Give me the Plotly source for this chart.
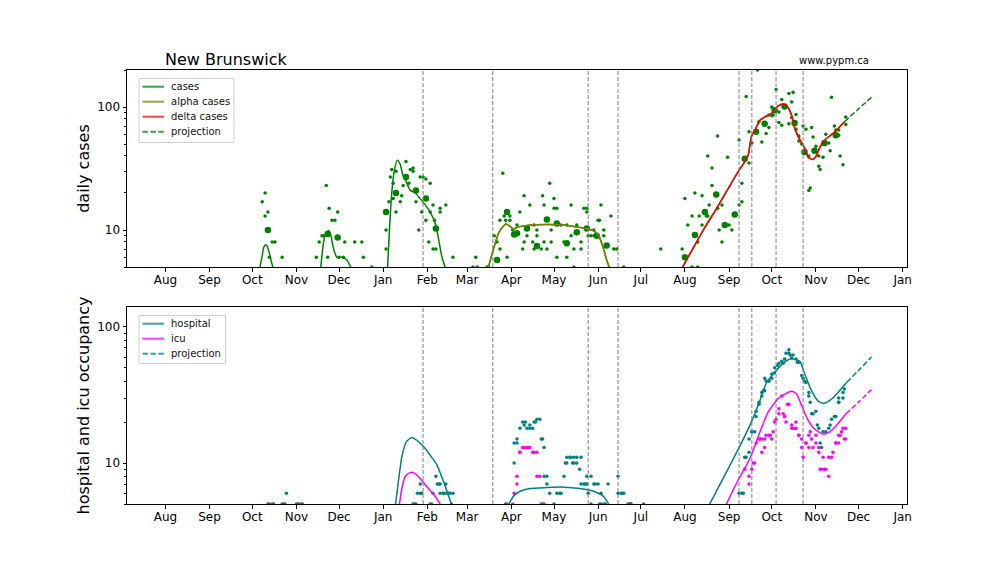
import pandas as pd
import plotly.graph_objects as go
import math

START = pd.Timestamp("2020-08-01")

def to_dates(days):
    return [None if d is None else (START + pd.to_timedelta(d, "D")).isoformat() for d in days]

month_ticks = ["2020-08-01","2020-09-01","2020-10-01","2020-11-01","2020-12-01","2021-01-01","2021-02-01",
               "2021-03-01","2021-04-01","2021-05-01","2021-06-01","2021-07-01","2021-08-01","2021-09-01",
               "2021-10-01","2021-11-01","2021-12-01","2022-01-01"]
month_labels = ["Aug","Sep","Oct","Nov","Dec","Jan","Feb","Mar","Apr","May","Jun","Jul","Aug","Sep","Oct","Nov","Dec","Jan"]
breakpoints = [181, 230, 297, 318, 403, 412, 429, 448]

# daily cases (days since 2020-08-01)
case_days = [68,70,70,72,75,77,73,82,
 106,108,110,111,113,114,115,117,119,121,126,122,125,133,138,139,145,
 155,155,157,158,159,160,160,162,162,165,166,167,169,171,172,174,174,176,179,178,180,181,183,183,186,188,185,186,188,190,189,193,193,197,202,216,219,218,226,227,
 231,233,235,237,240,235,239,238,242,242,244,247,249,252,251,252,254,256,258,259,259,261,261,264,265,266,266,268,270,271,271,273,273,275,275,278,280,282,282,285,285,287,287,289,292,292,294,296,296,297,299,301,301,304,305,306,308,308,313,315,317,322,348,
 363,370,374,365,367,370,374,372,375,377,377,380,382,381,381,384,384,388,388,389,391,391,395,396,398,403,403,405,405,408,410,410,412,416,415,417,419,422,424,424,426,426,427,429,431,431,433,433,438,438,440,440,441,443,443,445,445,447,448,450,452,453,452,454,455,457,459,460,459,462,464,466,467,468,470,471,473,473,474,476,478,478]
case_vals = [17,20,13,14,8,8,6,6,
 6,8,9,9,23,6,15,12,12,14,8,6,6,8,8,6,5,
 10,7,17,27,31,24,18,30,14,17,19,23,36,24,31,32,30,17,27,10,14,27,12,26,24,16,8,14,7,7,12,15,14,16,6,5,5,6,5,5,
 9,8,7,29,6,12,12,13,13,12,10,11,14,8,7,19,9,16,8,11,7,10,9,7,19,16,8,7,24,8,10,15,18,15,6,11,8,6,11,9,16,7,5,11,8,7,15,15,14,9,9,9,10,12,12,16,10,9,13,7,7,5,7,
 7,5,5,18,11,13,8,20,13,11,19,13,16,13,40,23,32,58,15,10,8,16,39,11,10,54,16,17,24,122,35,63,51,200,63,76,52,61,86,68,85,100,86,139,75,91,71,115,129,73,110,82,132,87,66,58,53,50,70,66,40,22,21,68,57,48,33,31,40,39,60,51,44,120,70,65,65,59,40,34,83,72,91,91,62,40]

# weekly averages (large dots)
case_week_days = [72,114,121,155,162,169,176,183,190,233,240,245,247,254,261,268,275,282,289,296,303,310,
                  365,372,379,387,393,400,407,415,421,428,435,442,449,456,463,471]
case_week_vals = [10,9.3,8.7,14,20,27,21,18,10.3,5.7,14,9.2,9.4,10.3,7.4,12.2,11.3,7.8,9.6,10.3,9,7.5,
                  6,9.1,14,19.4,11,13.4,38,63,73,94,101,74,43,44,51,59]

# fitted curves, None marks where the curve leaves the axis range
fit_days = [66,68,69,70.4,71.5,73,74.5,76,None,
 109,111,112.5,114.6,116.3,118,120.5,124,127.5,130.5,None,
 156,157.5,159,160.7,163,165,166.8,169,172,175.5,179,182.5,186,189.6,192,194.3,197,None,
 226.5,230.5,234,237.5,239.4,241.7,244.5,248,254,268,279.6,291.3,300.6,304.2,307.7,310,312.3,None,
 362.5,377.9,387.3,402.5,407.1,409.5,411.8,414.2,417.7,421.2,425.9,430.5,434,436.9,439.9,442.2,445.8,449.3,451.6,454.6,456.7,459.8,463.3,469.1,477.1]
fit_vals = [4.7,6.2,7.2,7.6,7.4,6.5,5.5,4.7,None,
 4.8,7.8,9.3,9.9,9,7.1,6,6,5.7,4.9,None,
 4.8,10.6,20,30,37,34,28,25,21,20,18,16,14,11.3,8.3,6,4.8,None,
 4.8,7,9.4,10.8,11.2,10.8,10.2,10.6,10.9,11.1,11,10.5,9.9,9.1,7.1,5.7,4.8,None,
 4.8,10,15,30,36,41,58,65,78,83,89,102,106,101,86,67,54,46,39,37.5,39,47,54,61,76]
alpha_days = [226.5,230.5,234,237.5,239.4,241.7,244.5,248,254,268,279.6,291.3,300.6,304.2,307.7,310,312.3]
alpha_vals = [4.8,7,9.4,10.8,11.2,10.8,10.2,10.6,10.9,11.1,11,10.5,9.9,9.1,7.1,5.7,4.8]
delta_days = [362.5,377.9,387.3,402.5,407.1,409.5,411.8,414.2,417.7,421.2,425.9,430.5,434,436.9,439.9,442.2,445.8,449.3,451.6,454.6,456.7,459.8,463.3,469.1,477.1]
delta_vals = [4.8,10,15,30,36,41,58,65,78,83,89,102,106,101,86,67,54,46,39,37.5,39,47,54,61,76]
proj_case_days = [477.1,486.7,496]
proj_case_vals = [76,96,120]

# hospital occupancy
hosp_days = [72,73,75,76,82,83,84,85,92,93,94,96,96,
 174,175,176,179,177,179,180,186,187,188,190,191,192,193,193,195,196,198,199,200,202,197,201,
 239,240,245,245,247,247,249,251,253,252,254,256,258,256,259,260,261,263,264,265,266,266,268,268,270,273,275,277,278,280,281,282,282,284,285,286,287,287,289,289,292,291,292,294,295,296,296,299,297,299,301,302,304,306,305,306,308,309,311,318,318,320,321,322,327,325,326,327,336,
 403,405,406,407,408,410,410,412,412,414,415,415,417,417,419,419,420,421,421,422,424,424,426,426,428,428,430,431,433,434,435,436,438,438,439,440,441,443,444,445,447,448,449,450,452,452,453,454,455,457,458,459,460,461,462,464,466,467,468,470,471,473,473,476,473,476,477,478]
hosp_vals = [5,5,5,5,5,5,5,6,5,5,5,5,5,
 5,5,5,7,6,6,6,5,5,6,8,7,7,7,6,6,6,6,6,6,6,7,5,
 5,5,10,14,14,15,18,20,20,19,18,18,18,19,20,20,21,21,15,15,13,8,8,7,6,5,6,6,6,8,10,10,11,11,11,10,10,11,11,10,11,9,7,7,7,7,8,5,6,8,7,7,7,6,5,5,5,5,7,8,6,6,6,6,5,5,5,5,
 5,6,6,6,11,11,12,15,17,17,17,22,24,27,28,31,33,34,34,42,40,40,40,42,45,46,50,52,54,56,54,58,64,68,64,62,59,62,58,55,55,44,42,40,39,33,31,28,23,23,24,19,18,14,13,17,17,18,19,21,22,22,28,28,30,30,33,35]

# icu occupancy
icu_days = [244,245,247,247,249,249,251,252,254,255,256,258,259,261,261,263,264,265,266,
 407,410,410,412,413,414,415,417,418,419,421,419,421,422,424,425,426,427,428,429,431,431,433,434,436,437,438,435,440,440,443,441,443,445,445,447,447,448,450,450,452,453,454,452,455,457,457,459,459,460,461,463,464,466,462,466,468,469,471,471,473,474,473,475,476,478,477,478]
icu_vals = [5,6,7,8,12,12,13,13,13,13,13,12,12,12,8,8,5,5,5,
 9,8,7,9,10,10,14,15,15,15,15,12,13,16,16,16,15,17,20,21,23,25,31,23,20,27,27,22,19,18,20,18,18,16,16,15,13,11,14,14,16,17,15,13,13,16,14,13,12,9,9,9,9,8,11,11,11,12,14,14,14,16,16,17,18,15,15,18]

hosp_fit_days = [161.5,163.8,166.1,169.2,173.1,176.6,181.3,186,190.7,195.4,199,201.5,None,
 240.5,244.5,249.2,256.2,267.9,279.6,291.3,300.7,307.7,312.3,None,
 381.5,402.4,410.6,417.7,422.3,428.2,434,439.9,445.7,449.2,453.9,458.6,462.6,466.8,472.6,478.5]
hosp_fit_vals = [4.8,7.5,11.1,14.3,15.4,14.7,13.2,11.4,9.7,7.3,5.7,4.8,None,
 4.8,5.7,6.2,6.5,6.6,6.65,6.5,6.2,5.7,4.8,None,
 4.8,12.6,18.9,28.8,39,46.4,54.2,58.3,55.8,45,34,28.5,27.4,28.8,33,39]
icu_fit_days = [164.2,166.1,168.5,172,174.3,179,183.7,189.5,194,None,
 393.3,402.4,410.6,417.7,423.5,430.5,436.4,439.9,443.4,446.9,451.6,456.3,462.1,466.8,472.6,477.8]
icu_fit_vals = [4.8,6.5,8,8.5,8.5,7.7,6.7,5.7,4.8,None,
 4.8,7.5,10.8,16.9,23.7,29.7,32.6,33.7,32.2,26.5,20.6,17.7,16.3,16.9,19.5,22.8]
proj_hosp_days = [478.5,487,496]
proj_hosp_vals = [39,48,60]
proj_icu_days = [477.8,487,496]
proj_icu_vals = [22.8,28,34.6]

GREEN, OLIVE, RED, TEAL, MAGENTA = "#008000", "#808000", "#ff0000", "#008080", "#ff00ff"

fig = go.Figure()

def dots(days, vals, color, size, xa, ya, name):
    n = min(len(days), len(vals))
    fig.add_trace(go.Scatter(x=to_dates(days[:n]), y=vals[:n], mode="markers", name=name, showlegend=False,
                             marker=dict(color=color, size=size, line=dict(width=0)), xaxis=xa, yaxis=ya))

def curve(days, vals, color, name, xa, ya, dash="solid"):
    fig.add_trace(go.Scatter(x=to_dates(days), y=vals, mode="lines", name=name, showlegend=False,
                             line=dict(color=color, width=1.5, dash=dash, shape="spline", smoothing=0.6),
                             connectgaps=False, xaxis=xa, yaxis=ya))

DASH = "5.5px,2.4px"
dots(case_days, case_vals, GREEN, 3.5, "x", "y", "daily cases")
dots(case_week_days, case_week_vals, GREEN, 6.5, "x", "y", "weekly cases")
curve(fit_days, fit_vals, GREEN, "cases", "x", "y")
curve(alpha_days, alpha_vals, OLIVE, "alpha cases", "x", "y")
curve(delta_days, delta_vals, RED, "delta cases", "x", "y")
curve(proj_case_days, proj_case_vals, GREEN, "projection", "x", "y", DASH)

dots(hosp_days, hosp_vals, TEAL, 3.5, "x2", "y2", "hospital data")
dots(icu_days, icu_vals, MAGENTA, 3.5, "x2", "y2", "icu data")
curve(hosp_fit_days, hosp_fit_vals, TEAL, "hospital", "x2", "y2")
curve(icu_fit_days, icu_fit_vals, MAGENTA, "icu", "x2", "y2")
curve(proj_hosp_days, proj_hosp_vals, TEAL, "projection", "x2", "y2", DASH)
curve(proj_icu_days, proj_icu_vals, MAGENTA, "projection", "x2", "y2", DASH)

for b in to_dates(breakpoints):
    for xr, yr in (("x", "y domain"), ("x2", "y2 domain")):
        fig.add_shape(type="line", x0=b, x1=b, y0=0, y1=1, xref=xr, yref=yr,
                      line=dict(color="#7f7f7f", width=1, dash="4px,2px"), layer="above")

FONT = "DejaVu Sans"
L, R, T, B, W, H = 127, 101, 70, 72, 1008, 576
PW, PH = W - L - R, H - T - B

def px_x(px):
    return (px - L) / PW

def px_y(py):
    return (H - B - py) / PH

annotations = [
    dict(text="New Brunswick", xref="paper", yref="paper", x=px_x(163), y=px_y(60), xanchor="left", yanchor="middle",
         showarrow=False, font=dict(size=16, color="#000")),
    dict(text="www.pypm.ca", xref="paper", yref="paper", x=px_x(797), y=px_y(61), xanchor="left", yanchor="middle",
         showarrow=False, font=dict(size=10, color="#000")),
]

def legend_box(x0, y0, x1, y1, entries, first_row):
    fig.add_shape(type="rect", xref="paper", yref="paper", x0=px_x(x0), x1=px_x(x1), y0=px_y(y0), y1=px_y(y1),
                  fillcolor="rgba(255,255,255,0.85)", line=dict(color="#cfcfcf", width=1), layer="above")
    for i, (label, color, dash) in enumerate(entries):
        row = first_row + 15 * i
        fig.add_shape(type="line", xref="paper", yref="paper", x0=px_x(142.5), x1=px_x(164), y0=px_y(row), y1=px_y(row),
                      line=dict(color=color, width=2, dash=dash), opacity=0.75, layer="above")
        annotations.append(dict(text=label, xref="paper", yref="paper", x=px_x(169), y=px_y(row - 0.5),
                                xanchor="left", yanchor="middle", showarrow=False, font=dict(size=10, color="#111")))

legend_box(139, 78.5, 234, 142.5, [("cases", GREEN, "solid"), ("alpha cases", OLIVE, "solid"),
                                 ("delta cases", RED, "solid"), ("projection", GREEN, DASH)], 86.7)
legend_box(139, 315.5, 225.5, 363.5, [("hospital", TEAL, "solid"), ("icu", MAGENTA, "solid"),
                                      ("projection", TEAL, DASH)], 323.7)

x_range = ["2020-07-05", "2022-01-04"]
xaxis = dict(type="date", range=x_range, tickmode="array", tickvals=month_ticks, ticktext=month_labels,
             ticks="outside", ticklen=3.5, tickwidth=1, tickcolor="#000", showgrid=False, zeroline=False,
             showline=True, mirror=True, linecolor="#000", linewidth=1, ticklabelstandoff=-2,
             tickfont=dict(size=12, color="#000"))
minor_vals = [5,6,7,8,9,20,30,40,50,60,70,80,90,200]

def yaxis(lo, hi, title, domain, anchor):
    return dict(type="log", range=[math.log10(lo), math.log10(hi)], domain=domain, anchor=anchor,
                tickmode="array", tickvals=[10, 100], ticktext=["10", "100"], ticks="outside", ticklen=3.5,
                tickwidth=1, tickcolor="#000", showgrid=False, zeroline=False, showline=True, mirror=True,
                linecolor="#000", linewidth=1, tickfont=dict(size=12, color="#000"),
                minor=dict(tickmode="array", tickvals=minor_vals, ticks="outside", ticklen=2, tickwidth=0.8,
                           tickcolor="#000", showgrid=False),
                title=dict(text=title, font=dict(size=16, color="#000"), standoff=3))

fig.update_layout(
    width=W, height=H, autosize=False, paper_bgcolor="#fff", plot_bgcolor="#fff",
    margin=dict(l=L, r=R, t=T, b=B, autoexpand=False),
    font=dict(family=FONT, color="#000"), showlegend=False,
    xaxis=dict(xaxis, anchor="y"),
    xaxis2=dict(xaxis, anchor="y2"),
    yaxis=yaxis(5, 200, "daily cases", [0.546, 1.0], "x"),
    yaxis2=yaxis(5, 140, "hospital and icu occupancy", [0.0, 0.454], "x2"),
    annotations=annotations,
)
fig.write_html("out.html", post_script="document.body.style.margin='0';", config={"displayModeBar": False})
